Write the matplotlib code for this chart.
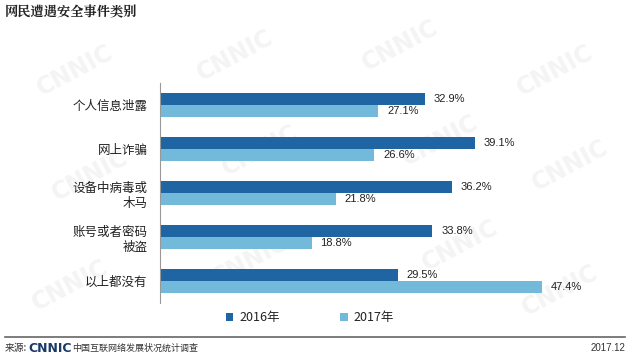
import matplotlib
matplotlib.use("Agg")
import matplotlib.pyplot as plt
import numpy as np

plt.rcParams['font.family'] = ['Noto Sans CJK SC', 'DejaVu Sans']

categories = ["个人信息泄露", "网上诈骗", "设备中病毒或\n木马", "账号或者密码\n被盗", "以上都没有"]
v2016 = [32.9, 39.1, 36.2, 33.8, 29.5]
v2017 = [27.1, 26.6, 21.8, 18.8, 47.4]
series = ["2016年", "2017年"]
c2016 = "#1f64a3"
c2017 = "#72b9da"

W, H = 630, 362
fig = plt.figure(figsize=(W/100, H/100), dpi=100)

# faint watermark
wm_ax = fig.add_axes([0, 0, 1, 1], zorder=0)
wm_ax.set_xlim(0, W); wm_ax.set_ylim(H, 0); wm_ax.axis('off')
wm_pos = [(75, 70), (235, 55), (400, 45), (555, 70),
          (90, 175), (260, 150), (440, 140), (570, 165),
          (70, 285), (250, 260), (460, 245), (560, 290)]
for xx, yy in wm_pos:
    wm_ax.text(xx, yy, "CNNIC", fontsize=17, fontweight='bold', color='#f4f4f4',
               rotation=28, ha='center', va='center', family=['DejaVu Sans'])

ax = fig.add_axes([160/W, 1 - 303/H, 440/W, 220/H], zorder=1)
ax.patch.set_alpha(0)
y = np.arange(len(categories))
h = 0.27
ax.barh(y - h/2, v2016, height=h, color=c2016, label=series[0])
ax.barh(y + h/2, v2017, height=h, color=c2017, label=series[1])
ax.set_xlim(0, 440/8.06)
ax.set_ylim(len(categories) - 0.5, -0.5)
for i in range(len(categories)):
    ax.text(v2016[i] + 1.1, y[i] - h/2, f"{v2016[i]:.1f}%", va='center', ha='left',
            fontsize=8, color='#222222', family=['Liberation Sans'])
    ax.text(v2017[i] + 1.1, y[i] + h/2, f"{v2017[i]:.1f}%", va='center', ha='left',
            fontsize=8, color='#222222', family=['Liberation Sans'])
ax.set_yticks(y)
ax.set_yticklabels(categories, fontsize=9, color='#222222', linespacing=1.2)
ax.tick_params(axis='y', length=0, pad=9)
ax.set_xticks([])
for s in ['top', 'right', 'bottom']:
    ax.spines[s].set_visible(False)
ax.spines['left'].set_color('#999999')
ax.spines['left'].set_linewidth(0.8)

leg = fig.legend(loc='center', bbox_to_anchor=(310/W, 1 - 318/H), ncol=2, frameon=False,
                 fontsize=9, handlelength=0.6, handleheight=0.6, columnspacing=4.8,
                 handletextpad=0.5)
for t in leg.get_texts():
    t.set_color('#222222')

# title
fig.text(5/W, 1 - 12/H, "网民遭遇安全事件类别", fontsize=9.5, fontweight='bold',
         ha='left', va='center', color='#222222', family=['Noto Serif CJK SC', 'Noto Sans CJK SC'])

# footer line
fig.add_artist(plt.Line2D([5/W, 625/W], [1 - 337/H, 1 - 337/H], color='#666666', lw=1.2))
fig.text(5/W, 1 - 348/H, "来源:", fontsize=7, ha='left', va='center', color='#333333')
fig.text(28/W, 1 - 348/H, "CNNIC", fontsize=9, fontweight='bold', ha='left', va='center',
         color='#1a3a6a', family=['DejaVu Sans'])
fig.text(72/W, 1 - 348/H, "中国互联网络发展状况统计调查", fontsize=6.5, ha='left', va='center', color='#333333')
fig.text(625/W, 1 - 348/H, "2017.12", fontsize=7, ha='right', va='center', color='#333333',
         family=['Liberation Sans'])

fig.savefig("out.png", dpi=100)
